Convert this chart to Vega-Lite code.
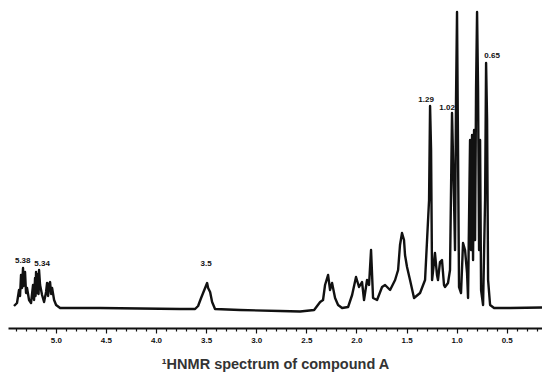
{
  "$schema": "https://vega.github.io/schema/vega-lite/v6.json",
  "width": 534,
  "height": 320,
  "autosize": {"type": "none"},
  "padding": {"top": 8, "left": 8, "right": 0, "bottom": 49},
  "background": "white",
  "config": {"view": {"stroke": null}},
  "datasets": {
    "spectrum": [
      {"ppm": 5.417, "intensity": 2}, {"ppm": 5.387, "intensity": 5}, {"ppm": 5.367, "intensity": 18},
      {"ppm": 5.357, "intensity": 12}, {"ppm": 5.347, "intensity": 33}, {"ppm": 5.337, "intensity": 20},
      {"ppm": 5.327, "intensity": 40}, {"ppm": 5.322, "intensity": 22},
      {"ppm": 5.317, "intensity": 30}, {"ppm": 5.307, "intensity": 36}, {"ppm": 5.297, "intensity": 15},
      {"ppm": 5.287, "intensity": 20},
      {"ppm": 5.267, "intensity": 8}, {"ppm": 5.247, "intensity": 5}, {"ppm": 5.227, "intensity": 23},
      {"ppm": 5.217, "intensity": 8}, {"ppm": 5.207, "intensity": 30}, {"ppm": 5.202, "intensity": 12},
      {"ppm": 5.197, "intensity": 36}, {"ppm": 5.187, "intensity": 15},
      {"ppm": 5.177, "intensity": 34}, {"ppm": 5.172, "intensity": 14},
      {"ppm": 5.167, "intensity": 38}, {"ppm": 5.157, "intensity": 23}, {"ppm": 5.137, "intensity": 13},
      {"ppm": 5.117, "intensity": 6}, {"ppm": 5.097, "intensity": 16}, {"ppm": 5.087, "intensity": 25},
      {"ppm": 5.077, "intensity": 12},
      {"ppm": 5.067, "intensity": 24}, {"ppm": 5.057, "intensity": 26}, {"ppm": 5.047, "intensity": 14},
      {"ppm": 5.037, "intensity": 20},
      {"ppm": 5.017, "intensity": 8}, {"ppm": 4.997, "intensity": 3}, {"ppm": 4.957, "intensity": 0},
      {"ppm": 4.558, "intensity": 0}, {"ppm": 4.159, "intensity": -0.5}, {"ppm": 3.760, "intensity": -1},
      {"ppm": 3.610, "intensity": -1}, {"ppm": 3.580, "intensity": 2}, {"ppm": 3.550, "intensity": 10},
      {"ppm": 3.530, "intensity": 15}, {"ppm": 3.510, "intensity": 20}, {"ppm": 3.490, "intensity": 25},
      {"ppm": 3.480, "intensity": 20}, {"ppm": 3.460, "intensity": 16}, {"ppm": 3.440, "intensity": 6},
      {"ppm": 3.411, "intensity": -1}, {"ppm": 3.161, "intensity": -2}, {"ppm": 2.762, "intensity": -3},
      {"ppm": 2.562, "intensity": -3.5}, {"ppm": 2.422, "intensity": -2}, {"ppm": 2.392, "intensity": 2},
      {"ppm": 2.362, "intensity": 6}, {"ppm": 2.333, "intensity": 8}, {"ppm": 2.313, "intensity": 23},
      {"ppm": 2.283, "intensity": 33}, {"ppm": 2.263, "intensity": 18}, {"ppm": 2.243, "intensity": 25},
      {"ppm": 2.213, "intensity": 10}, {"ppm": 2.183, "intensity": 3}, {"ppm": 2.143, "intensity": 0},
      {"ppm": 2.083, "intensity": 1}, {"ppm": 2.043, "intensity": 13}, {"ppm": 2.004, "intensity": 31},
      {"ppm": 1.974, "intensity": 21}, {"ppm": 1.944, "intensity": 26}, {"ppm": 1.924, "intensity": 8},
      {"ppm": 1.894, "intensity": 28}, {"ppm": 1.874, "intensity": 23}, {"ppm": 1.854, "intensity": 58},
      {"ppm": 1.834, "intensity": 10}, {"ppm": 1.794, "intensity": 8}, {"ppm": 1.744, "intensity": 21},
      {"ppm": 1.714, "intensity": 23}, {"ppm": 1.664, "intensity": 18}, {"ppm": 1.614, "intensity": 28},
      {"ppm": 1.584, "intensity": 38}, {"ppm": 1.565, "intensity": 63}, {"ppm": 1.545, "intensity": 75},
      {"ppm": 1.525, "intensity": 68}, {"ppm": 1.515, "intensity": 53}, {"ppm": 1.495, "intensity": 41},
      {"ppm": 1.465, "intensity": 28}, {"ppm": 1.425, "intensity": 10}, {"ppm": 1.365, "intensity": 15},
      {"ppm": 1.315, "intensity": 28}, {"ppm": 1.295, "intensity": 68}, {"ppm": 1.275, "intensity": 108},
      {"ppm": 1.265, "intensity": 202}, {"ppm": 1.255, "intensity": 158}, {"ppm": 1.245, "intensity": 28},
      {"ppm": 1.216, "intensity": 55}, {"ppm": 1.196, "intensity": 33}, {"ppm": 1.186, "intensity": 28},
      {"ppm": 1.166, "intensity": 46}, {"ppm": 1.146, "intensity": 48}, {"ppm": 1.126, "intensity": 23},
      {"ppm": 1.116, "intensity": 21}, {"ppm": 1.086, "intensity": 25}, {"ppm": 1.066, "intensity": 38},
      {"ppm": 1.046, "intensity": 195}, {"ppm": 1.026, "intensity": 108}, {"ppm": 1.016, "intensity": 58},
      {"ppm": 1.006, "intensity": 208}, {"ppm": 0.996, "intensity": 296}, {"ppm": 0.986, "intensity": 158},
      {"ppm": 0.976, "intensity": 21}, {"ppm": 0.956, "intensity": 15}, {"ppm": 0.936, "intensity": 65},
      {"ppm": 0.916, "intensity": 58}, {"ppm": 0.896, "intensity": 35}, {"ppm": 0.886, "intensity": 10},
      {"ppm": 0.866, "intensity": 168}, {"ppm": 0.856, "intensity": 58}, {"ppm": 0.846, "intensity": 173},
      {"ppm": 0.836, "intensity": 48}, {"ppm": 0.826, "intensity": 178}, {"ppm": 0.816, "intensity": 68},
      {"ppm": 0.806, "intensity": 220}, {"ppm": 0.796, "intensity": 296}, {"ppm": 0.786, "intensity": 218},
      {"ppm": 0.776, "intensity": 58}, {"ppm": 0.766, "intensity": 168}, {"ppm": 0.756, "intensity": 18},
      {"ppm": 0.736, "intensity": 3}, {"ppm": 0.716, "intensity": 108}, {"ppm": 0.706, "intensity": 245},
      {"ppm": 0.696, "intensity": 188}, {"ppm": 0.686, "intensity": 28}, {"ppm": 0.666, "intensity": 3},
      {"ppm": 0.626, "intensity": 0}, {"ppm": 0.466, "intensity": 0}, {"ppm": 0.148, "intensity": 0.5}
    ],
    "peakLabels": [
      {"ppm": 5.330, "intensity": 47, "shift": "5.38"},
      {"ppm": 5.137, "intensity": 44, "shift": "5.34"},
      {"ppm": 3.500, "intensity": 44, "shift": "3.5"},
      {"ppm": 1.305, "intensity": 208, "shift": "1.29"},
      {"ppm": 1.095, "intensity": 200, "shift": "1.02"},
      {"ppm": 0.646, "intensity": 252, "shift": "0.65"}
    ]
  },
  "encoding": {
    "x": {
      "field": "ppm",
      "type": "quantitative",
      "scale": {"domain": [0.148, 5.477], "reverse": true, "nice": false, "zero": false},
      "axis": {
        "values": [0.2, 0.3, 0.4, 0.5, 0.6, 0.7, 0.8, 0.9, 1.0, 1.1, 1.2, 1.3, 1.4, 1.5, 1.6, 1.7, 1.8, 1.9, 2.0, 2.1, 2.2, 2.3, 2.4, 2.5, 2.6, 2.7, 2.8, 2.9, 3.0, 3.1, 3.2, 3.3, 3.4, 3.5, 3.6, 3.7, 3.8, 3.9, 4.0, 4.1, 4.2, 4.3, 4.4, 4.5, 4.6, 4.7, 4.8, 4.9, 5.0, 5.1, 5.2, 5.3, 5.4],
        "labelExpr": "round(datum.value * 10) % 5 == 0 ? format(datum.value, '.1f') : ''",
        "labelOverlap": false,
        "labelFlush": false,
        "labelFont": "Liberation Sans",
        "labelFontWeight": "bold",
        "labelFontSize": 8,
        "labelColor": "#111111",
        "labelPadding": 3,
        "domainColor": "#111111",
        "domainWidth": 2,
        "tickColor": "#111111",
        "tickWidth": 1.2,
        "tickSize": {"condition": {"test": "round(datum.value * 10) % 5 == 0", "value": 5}, "value": 3},
        "grid": false,
        "title": "¹HNMR spectrum of compound A",
        "titleFont": "Liberation Sans",
        "titleFontSize": 14.5,
        "titleFontWeight": "bold",
        "titleColor": "#333333",
        "titlePadding": 13
      }
    },
    "y": {
      "field": "intensity",
      "type": "quantitative",
      "scale": {"domain": [-20, 300], "nice": false, "zero": false},
      "axis": null
    }
  },
  "layer": [
    {
      "data": {"name": "spectrum"},
      "mark": {"type": "line", "color": "#111111", "strokeWidth": 2.4, "strokeJoin": "round"}
    },
    {
      "data": {"name": "peakLabels"},
      "mark": {"type": "text", "font": "Liberation Sans", "fontWeight": "bold", "fontSize": 8, "color": "#111111", "baseline": "middle", "align": "center"},
      "encoding": {"text": {"field": "shift", "type": "nominal"}}
    }
  ]
}
